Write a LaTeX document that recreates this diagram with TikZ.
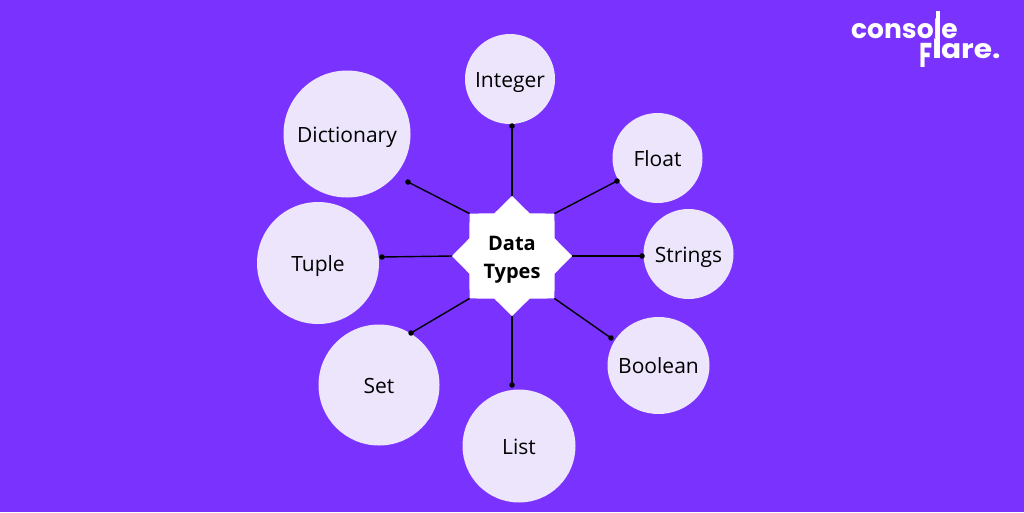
\documentclass[tikz,border=0pt]{standalone}
\usepackage{graphicx}
\usepackage{fontspec}
\setmainfont{Open Sans}
\newfontfamily\logofont{Poppins}
\usetikzlibrary{shapes.geometric,arrows.meta}
\definecolor{bgpurple}{HTML}{7A33FF}
\definecolor{bubblefill}{HTML}{ECE5FC}

\begin{document}
\begin{tikzpicture}[x=1pt,y=-1pt,
    bubble/.style={circle, fill=bubblefill, inner sep=0pt, outer sep=0pt, text height=16pt, text depth=0pt, font=\fontsize{21}{24}\selectfont},
    spoke/.style={draw=black, line width=1.4pt, shorten >=-2.7pt, -{Circle[length=5.4pt]}},
    logotext/.style={text=white, inner sep=0pt, anchor=base west, font=\logofont\bfseries\fontsize{26.5}{30}\selectfont}]

% Background
\fill[bgpurple] (0,0) rectangle (1024,512);
\useasboundingbox (0,0) rectangle (1024,512);

% Centre star
\node[star, star points=8, star point ratio=1.3, fill=white, minimum size=120pt, inner sep=0pt, outer sep=0pt,
      align=center, text height=44pt, text depth=0pt, font=\bfseries\fontsize{20}{28}\selectfont] (types) at (512,256) {Data\\Types};

% Outer circles
\node[bubble, minimum size=90pt]  (integer) at (510,79)  {Integer};
\node[bubble, minimum size=127pt] (dict)    at (347,134) {Dictionary};
\node[bubble, minimum size=90pt]  (float)   at (657.5,158) {Float};
\node[bubble, minimum size=90pt]  (strings) at (688.5,254) {Strings};
\node[bubble, minimum size=122pt] (tuple)   at (318,263) {Tuple};
\node[bubble, ellipse, inner xsep=-4.5pt, minimum width=102pt, minimum height=97pt] (boolean) at (658.5,365.5) {Boolean};
\node[bubble, minimum size=121pt] (set)     at (379,385) {Set};
\node[bubble, minimum size=113pt] (list)    at (519,446) {List};

% Free ends of the spokes
\coordinate (integerend) at (512,126);
\coordinate (floatend)   at (617,181);
\coordinate (stringsend) at (642,256);
\coordinate (booleanend) at (611,338);
\coordinate (listend)    at (512,385);
\coordinate (setend)     at (411,333);
\coordinate (tupleend)   at (382,257);
\coordinate (dictend)    at (408,182);

% Spokes
\draw[spoke] (types.outer point 1) -- (integerend);
\draw[spoke] (types.outer point 8) -- (floatend);
\draw[spoke] (types.outer point 7) -- (stringsend);
\draw[spoke] (types.outer point 6) -- (booleanend);
\draw[spoke] (types.outer point 5) -- (listend);
\draw[spoke] (types.outer point 4) -- (setend);
\draw[spoke] (types.outer point 3) -- (tupleend);
\draw[spoke] (types.outer point 2) -- (dictend);

% Logo
\node[logotext] (console) at (851,38) {console};
\node[logotext] (flare)   at (919,58) {\raisebox{-9pt}{\scalebox{0.9}[1.3]{F}}\scalebox{1.12}[1]{lare.}};
\fill[white] (936,11) rectangle (940,58);

\end{tikzpicture}
\end{document}
